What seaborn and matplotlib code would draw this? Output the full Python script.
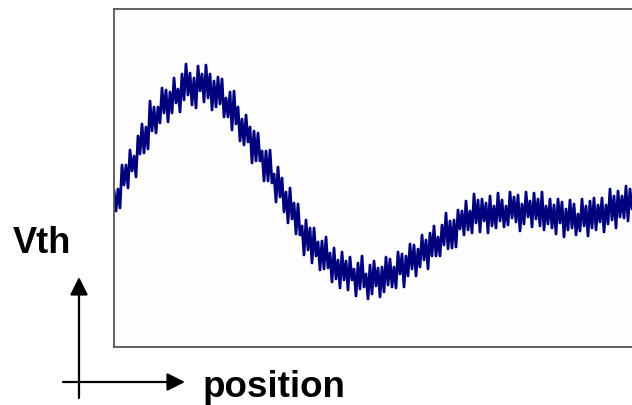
import numpy as np
import pandas as pd
import matplotlib
matplotlib.use("Agg")
import matplotlib.pyplot as plt
import seaborn as sns

# Threshold voltage profile sampled along the position axis (arbitrary units)
vth = [
    157, 136, 158, 139, 182, 162, 182, 159, 197, 176,
    191, 170, 211, 193, 223, 194, 220, 198, 246, 216,
    240, 214, 240, 224, 259, 234, 257, 225, 255, 234,
    269, 244, 258, 235, 273, 247, 283, 252, 274, 242,
    269, 239, 281, 256, 273, 245, 282, 249, 273, 237,
    266, 240, 270, 243, 268, 230, 249, 230, 255, 217,
    256, 223, 240, 206, 228, 202, 232, 205, 220, 184,
    216, 186, 214, 186, 196, 166, 196, 166, 197, 164,
    173, 145, 180, 150, 169, 135, 155, 124, 159, 128,
    144, 113, 143, 112, 121, 92, 127, 97, 119, 84,
    119, 91, 105, 77, 106, 78, 110, 79, 94, 65,
    99, 68, 87, 59, 95, 67, 86, 57, 90, 67,
    78, 51, 84, 58, 91, 60, 73, 48, 82, 53,
    86, 61, 79, 50, 80, 55, 90, 62, 88, 60,
    80, 59, 95, 73, 93, 60, 91, 71, 103, 78,
    102, 71, 98, 80, 112, 87, 107, 78, 114, 91,
    121, 91, 110, 91, 122, 102, 134, 98, 126, 99,
    127, 100, 137, 118, 136, 112, 146, 117, 136, 114,
    153, 124, 147, 115, 148, 126, 144, 114, 151, 121,
    141, 119, 154, 126, 147, 120, 141, 122, 155, 129,
    150, 125, 152, 116, 143, 123, 155, 130, 146, 120,
    154, 128, 148, 121, 155, 117, 141, 123, 148, 119,
    142, 113, 148, 124, 145, 110, 138, 117, 147, 119,
    143, 112, 133, 116, 148, 121, 141, 111, 146, 119,
    149, 117, 142, 125, 149, 115, 142, 123, 158, 127,
    151, 119, 156, 130, 151, 129, 161, 126, 158, 138,
]
position = list(range(len(vth)))

W, H = 632, 406
sns.set_theme(style="white")
plt.rcParams["font.family"] = ["Liberation Sans", "DejaVu Sans"]

fig = plt.figure(figsize=(W / 100, H / 100), dpi=100)
fig.patch.set_facecolor("white")

# plot box: left at x=114 px, top at y=10 px, bottom at y=347.5 px; runs past the right edge
left_px, top_px, bottom_px, right_px = 114, 10, 347.5, 640
ax = fig.add_axes([left_px / W, 1 - bottom_px / H,
                   (right_px - left_px) / W, (bottom_px - top_px) / H])
ax.set_facecolor("#fdfdfd")

df = pd.DataFrame({"position": position, "Vth": vth})
sns.lineplot(data=df, x="position", y="Vth", ax=ax, color="#00007f",
             linewidth=2.0, estimator=None)

ax.set_xlim(0, (right_px - left_px) / 2)
ax.set_ylim(348 - bottom_px, 348 - top_px)
ax.set_xticks([])
ax.set_yticks([])
ax.set_xlabel("")
ax.set_ylabel("")
for side in ["left", "bottom", "top", "right"]:
    ax.spines[side].set_visible(True)
    ax.spines[side].set_color("#555555")
    ax.spines[side].set_linewidth(1.3)

# axis labels
fig.text(13 / W, 1 - 253 / H, "Vth", fontsize=26, fontweight="bold",
         ha="left", va="baseline", color="black")
fig.text(203 / W, 1 - 397 / H, "position", fontsize=26.5, fontweight="bold",
         ha="left", va="baseline", color="black")

# direction arrows
arrow_kw = dict(arrowstyle="-|>,head_length=0.6,head_width=0.3",
                mutation_scale=18, color="black", lw=1.6,
                shrinkA=0, shrinkB=0)
ax.annotate("", xy=(79, H - 278), xytext=(79, H - 399),
            xycoords="figure pixels", textcoords="figure pixels",
            arrowprops=arrow_kw, annotation_clip=False)
ax.annotate("", xy=(185, H - 383), xytext=(63, H - 383),
            xycoords="figure pixels", textcoords="figure pixels",
            arrowprops=arrow_kw, annotation_clip=False)

fig.savefig("out.png", dpi=100, facecolor="white")
